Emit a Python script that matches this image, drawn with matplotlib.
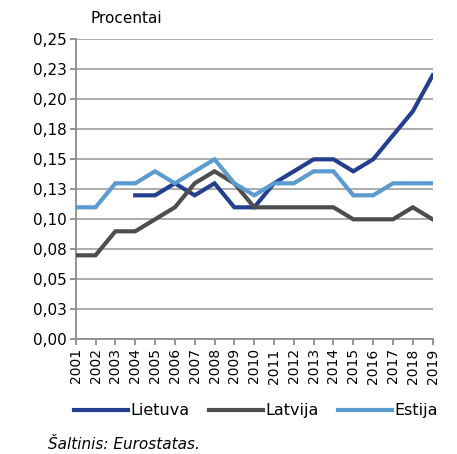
import matplotlib
matplotlib.use("Agg")
import matplotlib.pyplot as plt

years = [str(y) for y in range(2001, 2020)]

# Lietuva starts in 2004
lietuva = [None, None, None, 0.12, 0.12, 0.13, 0.12, 0.13, 0.11, 0.11,
           0.13, 0.14, 0.15, 0.15, 0.14, 0.15, 0.17, 0.19, 0.22]
latvija = [0.07, 0.07, 0.09, 0.09, 0.10, 0.11, 0.13, 0.14, 0.13, 0.11,
           0.11, 0.11, 0.11, 0.11, 0.10, 0.10, 0.10, 0.11, 0.10]
estija = [0.11, 0.11, 0.13, 0.13, 0.14, 0.13, 0.14, 0.15, 0.13, 0.12,
          0.13, 0.13, 0.14, 0.14, 0.12, 0.12, 0.13, 0.13, 0.13]

y_ticks = [0.0, 0.025, 0.05, 0.075, 0.10, 0.125, 0.15, 0.175, 0.20, 0.225, 0.25]
y_tick_labels = ["0,00", "0,03", "0,05", "0,08", "0,10", "0,13",
                 "0,15", "0,18", "0,20", "0,23", "0,25"]

series = [
    ("Lietuva", lietuva, "#233F8E"),
    ("Latvija", latvija, "#4D4D4D"),
    ("Estija", estija, "#5B9BD0"),
]

plt.rcParams["font.family"] = ["DejaVu Sans"]

fig = plt.figure(figsize=(4.57, 4.54), dpi=100)
ax = fig.add_axes([0.1657, 0.2526, 0.781, 0.6608])

x = list(range(len(years)))
for name, values, color in series:
    xs = [i for i, v in zip(x, values) if v is not None]
    vs = [v for v in values if v is not None]
    ax.plot(xs, vs, color=color, linewidth=3.0, label=name,
            solid_joinstyle="miter", zorder=3)

ax.set_xlim(0, len(years) - 1)
ax.set_ylim(0, 0.25)
ax.set_yticks(y_ticks)
ax.set_yticklabels(y_tick_labels, fontsize=11)
ax.set_xticks(x)
ax.set_xticklabels(years, rotation=90, fontsize=10)

ax.grid(axis="y", color="#A6A6A6", linewidth=1.3, zorder=0)
for side in ["top", "right"]:
    ax.spines[side].set_visible(False)
for side in ["left", "bottom"]:
    ax.spines[side].set_color("#8C8C8C")
    ax.spines[side].set_linewidth(1.3)
ax.tick_params(axis="both", color="#8C8C8C", width=1.3, length=4.5, pad=2)

fig.text(0.197, 0.96, "Procentai", fontsize=11, va="center", ha="left")

fig.legend(loc="center", bbox_to_anchor=(0.56, 0.095), ncol=3, frameon=False,
           fontsize=11.5, handlelength=3.4, handletextpad=0.15,
           columnspacing=1.2, borderaxespad=0)

fig.text(0.105, 0.02, "Šaltinis: Eurostatas.", fontsize=11, style="italic",
         va="center", ha="left")

fig.savefig("out.png", dpi=100)
